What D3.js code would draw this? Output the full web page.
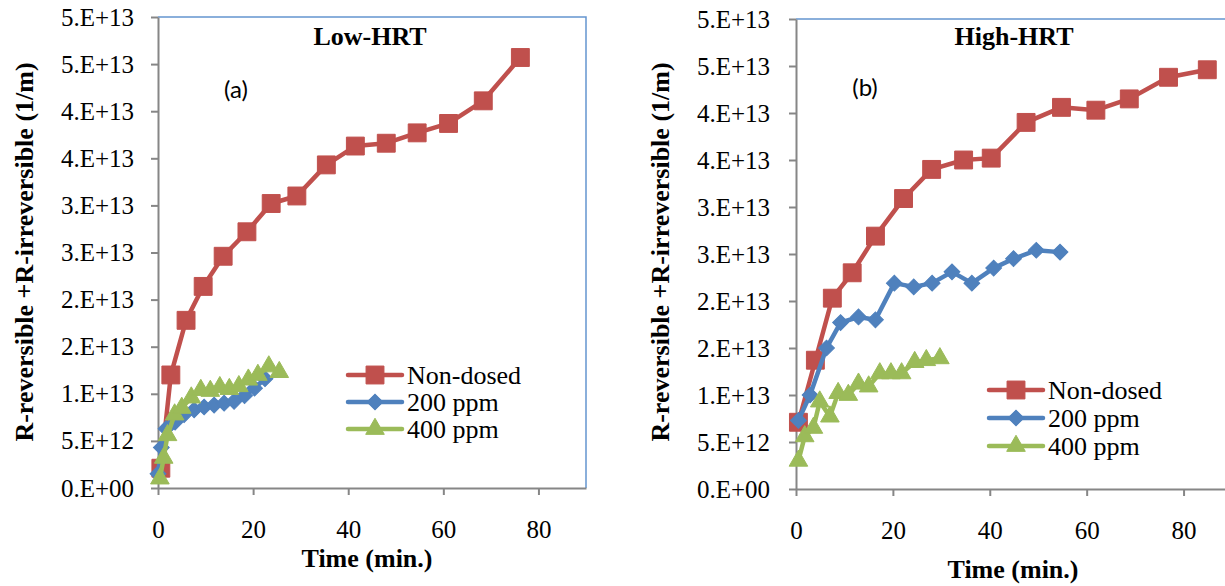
<!DOCTYPE html>
<html>
<head>
<meta charset="utf-8">
<script src="https://cdn.jsdelivr.net/npm/d3@7"></script>
<style>
  body { margin: 0; background: #fff; }
  svg { display: block; }
</style>
</head>
<body>
<svg id="chart" width="1225" height="586"></svg>
<script>
// axis ticks
const xTicks = [0, 20, 40, 60, 80]
const yTicks = [0, 5e12, 1e13, 1.5e13, 2e13, 2.5e13, 3e13, 3.5e13, 4e13, 4.5e13, 5e13]

const seriesNames = ['Non-dosed', '200 ppm', '400 ppm']
const panelTitles = ['Low-HRT', 'High-HRT']
const panelTags = ['(a)', '(b)']

// Low-HRT (a)
const lowNonT = [0.6, 2.7, 5.9, 9.5, 13.7, 18.7, 23.8, 29.2, 35.4, 41.5, 48.0, 54.5, 61.1, 68.4, 76.2]
const lowNonR = [2.1e12, 12.0e12, 17.8e12, 21.4e12, 24.6e12, 27.2e12, 30.2e12, 31.0e12, 34.3e12, 36.3e12, 36.6e12, 37.7e12, 38.7e12, 41.1e12, 45.7e12]
const low200T = [0.0, 0.7, 1.7, 3.6, 5.5, 7.6, 9.7, 11.8, 13.9, 16.0, 18.2, 20.3, 22.5]
const low200R = [1.5e12, 4.3e12, 6.3e12, 7.0e12, 7.8e12, 8.3e12, 8.6e12, 8.8e12, 9.0e12, 9.2e12, 9.8e12, 10.6e12, 11.6e12]
const low400T = [0.4, 1.2, 2.0, 3.5, 5.0, 7.0, 9.0, 11.0, 13.0, 15.0, 17.0, 19.0, 21.0, 23.3, 25.5]
const low400R = [1.0e12, 3.2e12, 5.6e12, 7.8e12, 8.5e12, 9.6e12, 10.4e12, 10.3e12, 10.7e12, 10.5e12, 10.8e12, 11.5e12, 12.0e12, 12.9e12, 12.3e12]

// High-HRT (b)
const highNonT = [0.5, 4.0, 7.5, 11.6, 16.4, 22.2, 28.0, 34.6, 40.3, 47.5, 54.8, 61.9, 68.8, 76.9, 84.9]
const highNonR = [7.1e12, 13.7e12, 20.3e12, 23.0e12, 26.9e12, 30.9e12, 34.0e12, 35.0e12, 35.2e12, 39.0e12, 40.6e12, 40.3e12, 41.5e12, 43.8e12, 44.6e12]
const high200T = [0.5, 2.9, 6.3, 9.2, 12.9, 16.4, 20.3, 24.3, 28.1, 32.2, 36.3, 40.8, 44.9, 49.6, 54.5]
const high200R = [7.3e12, 10.0e12, 15.0e12, 17.7e12, 18.3e12, 18.0e12, 21.9e12, 21.5e12, 21.9e12, 23.1e12, 21.9e12, 23.5e12, 24.5e12, 25.4e12, 25.2e12]
const high400T = [0.5, 1.8, 3.6, 4.9, 7.0, 8.7, 10.8, 12.9, 15.0, 17.3, 19.6, 21.8, 24.5, 26.9, 29.7]
const high400R = [3.0e12, 5.6e12, 6.5e12, 9.3e12, 7.7e12, 10.2e12, 10.0e12, 11.2e12, 10.9e12, 12.3e12, 12.3e12, 12.3e12, 13.5e12, 13.7e12, 13.9e12]

const colors = ['#c0504d', '#4f81bd', '#9bbb59']
const axisGray = '#868686'
const borderBlue = '#6495d0'
const serif = '"Liberation Serif", "Times New Roman", serif'
const sans = 'Lato, "Open Sans", sans-serif'

// Excel "0.E+00" number format
function excelExp(v) {
    if (v === 0) return '0.E+00'
    let e = Math.floor(Math.log10(v) + 1e-9)
    let m = Math.round(v / Math.pow(10, e))
    if (m === 10) { m = 1; e += 1 }
    return m + '.E+' + (e < 10 ? '0' + e : e)
}

function markerPath(i) {
    if (i === 0) return d3.symbol().type(d3.symbolSquare).size(320)()
    if (i === 1) return d3.symbol().type(d3.symbolSquare).size(125)()
    return d3.symbol().type(d3.symbolTriangle).size(150)()
}

function drawMarker(g, i, x, y) {
    g.append('path')
        .attr('d', markerPath(i))
        .attr('transform', 'translate(' + x + ',' + y + ')' + (i === 1 ? ' rotate(45)' : ''))
        .attr('fill', colors[i])
        .attr('stroke', colors[i])
        .attr('stroke-width', 1)
}

const svg = d3.select('#chart')

function addText(x, y, str, size, bold, family) {
    return svg.append('text')
        .attr('x', x).attr('y', y)
        .style('font-family', family || serif)
        .style('font-size', size + 'px')
        .style('font-weight', bold ? 'bold' : 'normal')
        .style('fill', '#000')
        .text(str)
}

function drawPanel(p) {
    const x = d3.scaleLinear().domain([0, 90]).range([p.left, p.right])
    const y = d3.scaleLinear().domain([0, 5e13]).range([p.bottom, p.top])

    // top / right plot border
    svg.append('path')
        .attr('d', 'M' + p.left + ',' + p.top + 'H' + p.right + 'V' + p.bottom)
        .attr('fill', 'none')
        .attr('stroke', borderBlue)
        .attr('stroke-width', 1.5)

    const yAxis = svg.append('g')
        .attr('transform', 'translate(' + p.left + ',0)')
        .call(d3.axisLeft(y).tickValues(yTicks).tickFormat(excelExp).tickSize(7).tickSizeOuter(0).tickPadding(p.yPad))
    const xAxis = svg.append('g')
        .attr('transform', 'translate(0,' + p.bottom + ')')
        .call(d3.axisBottom(x).tickValues(xTicks).tickFormat(d3.format('d')).tickSize(7).tickSizeOuter(0).tickPadding(25))

    for (const ax of [yAxis, xAxis]) {
        ax.select('.domain').attr('stroke', axisGray).attr('stroke-width', 2)
        ax.selectAll('.tick line').attr('stroke', axisGray).attr('stroke-width', 2)
        ax.selectAll('.tick text')
            .style('font-family', serif)
            .style('font-size', '25px')
            .style('fill', '#000')
    }

    // series, drawn in Excel's order so later ones sit on top
    const line = d3.line().x(d => x(d[0])).y(d => y(d[1]))
    p.series.forEach((s, i) => {
        const pts = s.t.map((t, k) => [t, s.r[k]])
        const g = svg.append('g')
        g.append('path')
            .datum(pts)
            .attr('d', line)
            .attr('fill', 'none')
            .attr('stroke', colors[i])
            .attr('stroke-width', 4.5)
            .attr('stroke-linejoin', 'round')
        pts.forEach(d => drawMarker(g, i, x(d[0]), y(d[1])))
    })

    // titles
    addText(p.titleX, 45, p.title, 26, true).attr('text-anchor', 'middle')
    addText(p.tagX, p.tagY, p.tag, 24, false, sans).attr('text-anchor', 'middle')
    addText(p.xTitleX, p.xTitleY, 'Time (min.)', 26, true).attr('text-anchor', 'middle')
    addText(0, 0, 'R-reversible +R-irreversible (1/m)', 26, true)
        .attr('transform', 'translate(' + p.yTitleX + ',252) rotate(-90)')
        .attr('text-anchor', 'middle')
        .attr('dominant-baseline', 'central')

    // legend
    seriesNames.forEach((name, i) => {
        const ly = p.legY + i * p.legStep
        const g = svg.append('g')
        g.append('line')
            .attr('x1', p.legX).attr('x2', p.legX + 54)
            .attr('y1', ly).attr('y2', ly)
            .attr('stroke', colors[i]).attr('stroke-width', 4.5)
            .attr('stroke-linecap', 'round')
        drawMarker(g, i, p.legX + 27, ly)
        addText(p.legX + 59, ly, name, 26, false).attr('dominant-baseline', 'central')
    })
}

drawPanel({
    left: 158, right: 586, top: 17, bottom: 488, yPad: 17,
    title: panelTitles[0], titleX: 370,
    tag: panelTags[0], tagX: 236, tagY: 98,
    xTitleX: 367, xTitleY: 567, yTitleX: 24,
    legX: 348, legY: 375, legStep: 27,
    series: [
        { t: lowNonT, r: lowNonR },
        { t: low200T, r: low200R },
        { t: low400T, r: low400R }
    ]
})

drawPanel({
    left: 796, right: 1232, top: 19, bottom: 489, yPad: 19,
    title: panelTitles[1], titleX: 1014,
    tag: panelTags[1], tagX: 865, tagY: 96,
    xTitleX: 1013, xTitleY: 578, yTitleX: 660,
    legX: 989, legY: 390, legStep: 28,
    series: [
        { t: highNonT, r: highNonR },
        { t: high200T, r: high200R },
        { t: high400T, r: high400R }
    ]
})
</script>
</body>
</html>
